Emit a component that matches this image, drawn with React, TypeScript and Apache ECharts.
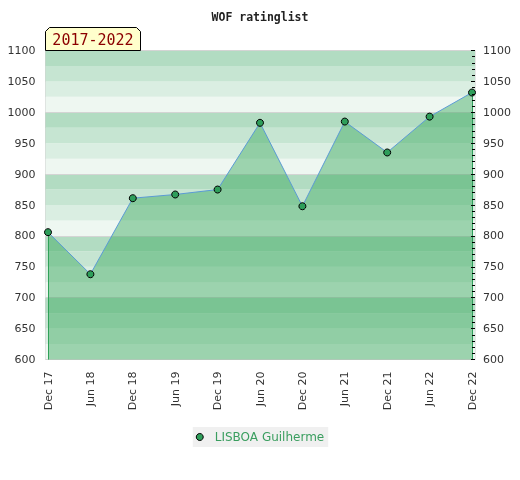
import React, { useEffect, useRef } from 'react';
import * as echarts from 'echarts';

const categories = ['Dec 17', 'Jun 18', 'Dec 18', 'Jun 19', 'Dec 19', 'Jun 20', 'Dec 20', 'Jun 21', 'Dec 21', 'Jun 22', 'Dec 22'];
const ratings = [806, 738, 861, 867, 875, 983, 848, 985, 935, 993, 1032];
const seriesName = 'LISBOA Guilherme';
const chartTitle = 'WOF ratinglist';
const periodLabel = '2017-2022';
const yMin = 600;
const yMax = 1100;

const bandColors = ['#eef7f1', '#daeee2', '#c6e5d2', '#b2dcc2'];

export default function App() {
  const ref = useRef<HTMLDivElement>(null);

  useEffect(() => {
    if (!ref.current) return;
    const chart = echarts.init(ref.current, null, { renderer: 'svg' });
    const last = categories.length - 1;
    const plain = (v: number) => String(v);
    const option: any = {
      animation: false,
      textStyle: { fontFamily: 'DejaVu Sans' },
      title: {
        text: chartTitle,
        left: 'center',
        top: 6,
        textStyle: { fontFamily: 'DejaVu Sans Mono', fontWeight: 'bold', fontSize: 11.5, color: '#222' },
      },
      grid: [
        { left: 45.5, right: 45, top: 50.5, bottom: 120.5, show: true, borderColor: '#d0d0d0', borderWidth: 1, backgroundColor: 'transparent', containLabel: false },
        { left: 48, right: 48, top: 50.5, bottom: 120.5, containLabel: false },
      ],
      xAxis: [
        { gridIndex: 0, type: 'value', min: 0, max: 1, show: false },
        {
          gridIndex: 1,
          type: 'category',
          data: categories,
          boundaryGap: false,
          axisLine: { show: false },
          axisTick: { show: false },
          splitLine: { show: false },
          axisLabel: { rotate: 90, margin: 12, fontSize: 11, color: '#333', interval: 0 },
        },
      ],
      yAxis: [
        {
          gridIndex: 0, type: 'value', position: 'left', min: yMin, max: yMax, interval: 50,
          axisLine: { show: false }, axisTick: { show: false }, splitLine: { show: false },
          axisLabel: { fontSize: 11, color: '#333', margin: 10, formatter: plain },
        },
        {
          gridIndex: 0, type: 'value', position: 'right', min: yMin, max: yMax, interval: 50,
          axisLine: { show: false },
          axisTick: { show: true, inside: true, length: 4, lineStyle: { color: '#000', width: 1 } },
          minorTick: { show: true, splitNumber: 5, length: 3, lineStyle: { color: '#000', width: 1 } },
          splitLine: { show: false },
          axisLabel: { fontSize: 11, color: '#333', margin: 8, formatter: plain },
          z: 10,
        },
        {
          gridIndex: 0, type: 'value', position: 'left', min: yMin, max: yMax, interval: 25,
          axisLine: { show: false }, axisTick: { show: false }, axisLabel: { show: false },
          splitLine: { show: false },
          splitArea: { show: true, areaStyle: { color: bandColors } },
        },
        {
          gridIndex: 0, type: 'value', position: 'left', min: yMin, max: yMax, interval: 100,
          axisLine: { show: false }, axisTick: { show: false }, axisLabel: { show: false },
          splitLine: { show: true, lineStyle: { color: '#d4d4d4', width: 1 } },
        },
        { gridIndex: 1, type: 'value', min: yMin, max: yMax, show: false },
      ],
      legend: {
        data: [seriesName],
        left: 'center',
        top: 427,
        backgroundColor: '#f0f0f0',
        padding: [4, 4, 4, 3],
        itemWidth: 14,
        itemHeight: 7,
        itemGap: 0,
        icon: 'circle',
        itemStyle: { color: '#2e9e5a', borderColor: '#000', borderWidth: 1 },
        textStyle: { color: '#3a9e5f', fontSize: 12, fontFamily: 'DejaVu Sans', padding: [0, 0, 0, 3] },
      },
      graphic: [
        {
          type: 'polygon',
          shape: { points: [[45.5, 50.5], [45.5, 31.5], [49.5, 27.5], [136.5, 27.5], [140.5, 31.5], [140.5, 50.5]] },
          style: { fill: '#ffffcc', stroke: '#000', lineWidth: 1 },
          z: 10,
        },
        {
          type: 'text',
          x: 93,
          y: 40,
          style: {
            text: periodLabel,
            fill: '#8b0000',
            font: '15px "DejaVu Sans Mono"',
            align: 'center',
            verticalAlign: 'middle',
            textAlign: 'center',
            textVerticalAlign: 'middle',
          },
          z: 11,
        },
      ],
      series: [
        {
          name: seriesName,
          type: 'line',
          xAxisIndex: 1,
          yAxisIndex: 4,
          data: ratings,
          symbol: 'circle',
          symbolSize: 7,
          itemStyle: { color: '#2e9e5a', borderColor: '#000', borderWidth: 1 },
          lineStyle: { color: '#5b9bd5', width: 1 },
          areaStyle: { color: '#30a455', opacity: 0.43, origin: 'start' },
          markLine: {
            silent: true,
            symbol: 'none',
            z: 2,
            label: { show: false },
            lineStyle: { color: '#2e9e5a', width: 1, type: 'solid' },
            data: [
              [{ coord: [categories[0], ratings[0]] }, { coord: [categories[0], yMin] }],
              [{ coord: [categories[last], ratings[last]] }, { coord: [categories[last], yMin] }],
            ],
          },
        },
      ],
    };
    chart.setOption(option);
    return () => chart.dispose();
  }, []);

  return <div ref={ref} style={{ position: 'fixed', left: 0, top: 0, width: 520, height: 480 }} />;
}
